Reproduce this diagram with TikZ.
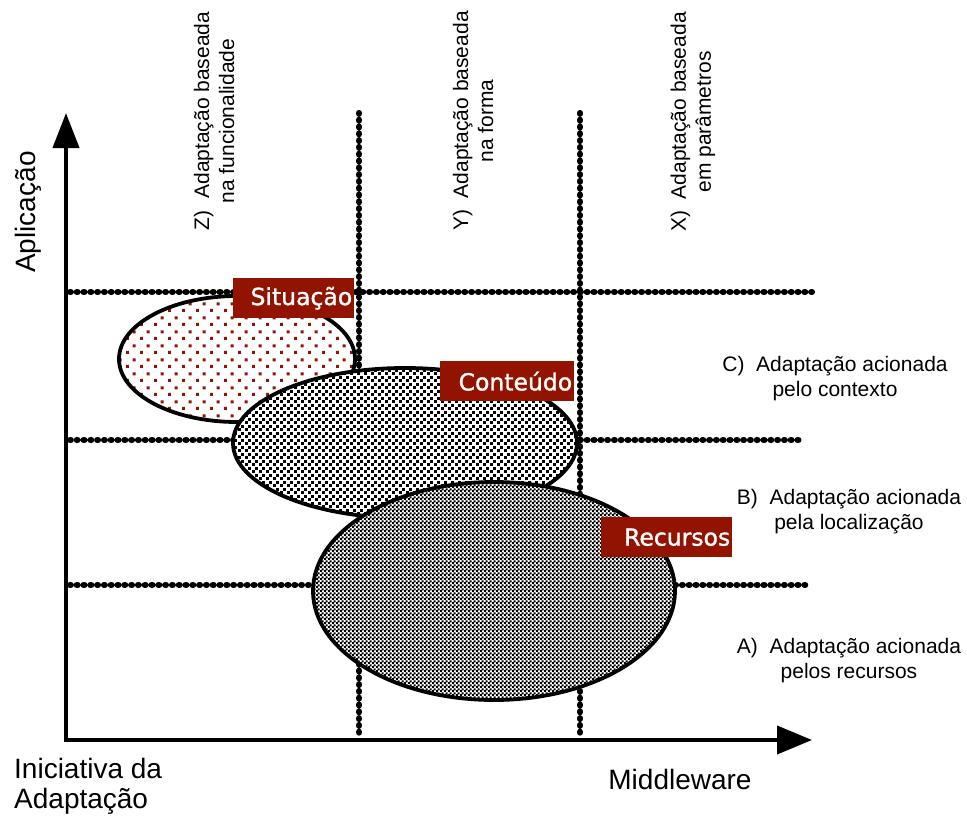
\documentclass[tikz,border=0pt]{standalone}
\usepackage{fontspec}
\setmainfont{Liberation Sans}
\newfontfamily\tagfont[FakeBold=1.2]{DejaVu Sans}
\usetikzlibrary{shapes.geometric,patterns.meta,arrows.meta}

\definecolor{tagred}{RGB}{146,20,0}

% sparse staggered dots (Situação)
\tikzdeclarepattern{
  name=sparsegrain, type=uncolored,
  bounding box={(0pt,0pt) and (14pt,14pt)},
  tile size={(14pt,14pt)},
  code={\fill (0pt,0pt) rectangle (3.2pt,3.2pt);
        \fill (7pt,7pt) rectangle (10.2pt,10.2pt);}
}
% dense staggered dots (Conteúdo)
\tikzdeclarepattern{
  name=densegrain, type=uncolored,
  bounding box={(0pt,0pt) and (7pt,7pt)},
  tile size={(7pt,7pt)},
  code={\fill (0pt,0pt) rectangle (3.3pt,3.3pt);
        \fill (3.5pt,3.5pt) rectangle (6.8pt,6.8pt);}
}
% fine checkerboard (Recursos)
\tikzdeclarepattern{
  name=checker, type=uncolored,
  bounding box={(0pt,0pt) and (4pt,4pt)},
  tile size={(4pt,4pt)},
  code={\fill (0pt,0pt) rectangle (2.4pt,2.4pt);
        \fill (2pt,2pt) rectangle (4.4pt,4.4pt);}
}

\begin{document}
\begin{tikzpicture}[x=1pt,y=-1pt,
  gridline/.style={line width=6.2pt, line cap=round, dash pattern=on 0.8pt off 6pt},
  axisline/.style={line width=4pt, line join=miter,
    {Triangle[length=35pt,width=26pt]}-{Triangle[length=35pt,width=28pt]}},
  blob/.style={ellipse, draw, line width=3.8pt, inner sep=0pt, preaction={fill=white}},
  tag/.style={fill=tagred, text=white, font=\tagfont\fontsize{23.5}{28}\selectfont,
    inner xsep=2pt, inner ysep=0pt, minimum height=40pt, align=right, anchor=north west},
  note/.style={font=\fontsize{21}{25}\selectfont, align=center, inner sep=0pt},
  axlabel/.style={font=\fontsize{28}{30}\selectfont, inner sep=0pt}]

\useasboundingbox (0,0) rectangle (967,816);

% grid of dotted lines
\coordinate (h1a) at (70,292);  \coordinate (h1b) at (812,292);
\coordinate (h2a) at (70,440);  \coordinate (h2b) at (800,440);
\coordinate (h3a) at (70,585);  \coordinate (h3b) at (810,585);
\coordinate (v1a) at (359,113); \coordinate (v1b) at (359,737);
\coordinate (v2a) at (580,113); \coordinate (v2b) at (580,737);
\draw[gridline] (h1a) -- (h1b);
\draw[gridline] (h2a) -- (h2b);
\draw[gridline] (h3a) -- (h3b);
\draw[gridline] (v1a) -- (v1b);
\draw[gridline] (v2a) -- (v2b);

% axes
\coordinate (O) at (66,740);
\coordinate (ytop) at (66,113);
\coordinate (xend) at (812,740);
\draw[axisline] (ytop) -- (O) -- (xend);

% regions
\node[blob, minimum width=236pt, minimum height=126pt,
  pattern={sparsegrain}, pattern color=tagred] (sit) at (237,359) {};
\node[blob, minimum width=344pt, minimum height=150pt,
  pattern={densegrain}, pattern color=black] (cont) at (405,443) {};
\node[blob, minimum width=362pt, minimum height=218pt,
  pattern={checker}, pattern color=black] (rec) at (494,591) {};

% region tags
\node[tag, text width=117pt] (tsit) at (233,278) {Situação};
\node[tag, text width=130pt] (tcont) at (440,361) {Conteúdo};
\node[tag, text width=127pt] (trec) at (601,517) {Recursos};

% column captions
\node[note, rotate=90] (colZ) at (214,121) {Z)\ \ Adaptação baseada\\na funcionalidade};
\node[note, rotate=90] (colY) at (473,121) {Y)\ \ Adaptação baseada\\na forma};
\node[note, rotate=90] (colX) at (693,122) {X)\ \ Adaptação baseada\\em parâmetros};

% row captions
\node[note] (rowC) at (835,379) {C)\ \ Adaptação acionada\\pelo contexto};
\node[note] (rowB) at (849,512) {B)\ \ Adaptação acionada\\pela localização};
\node[note] (rowA) at (849,661) {A)\ \ Adaptação acionada\\pelos recursos};

% axis captions
\node[axlabel, rotate=90] (ylab) at (28,212) {Aplicação};
\node[axlabel, align=left, anchor=west] (orig) at (14,786) {Iniciativa da\\Adaptação};
\node[axlabel] (xlab) at (680,779) {Middleware};
\end{tikzpicture}
\end{document}
